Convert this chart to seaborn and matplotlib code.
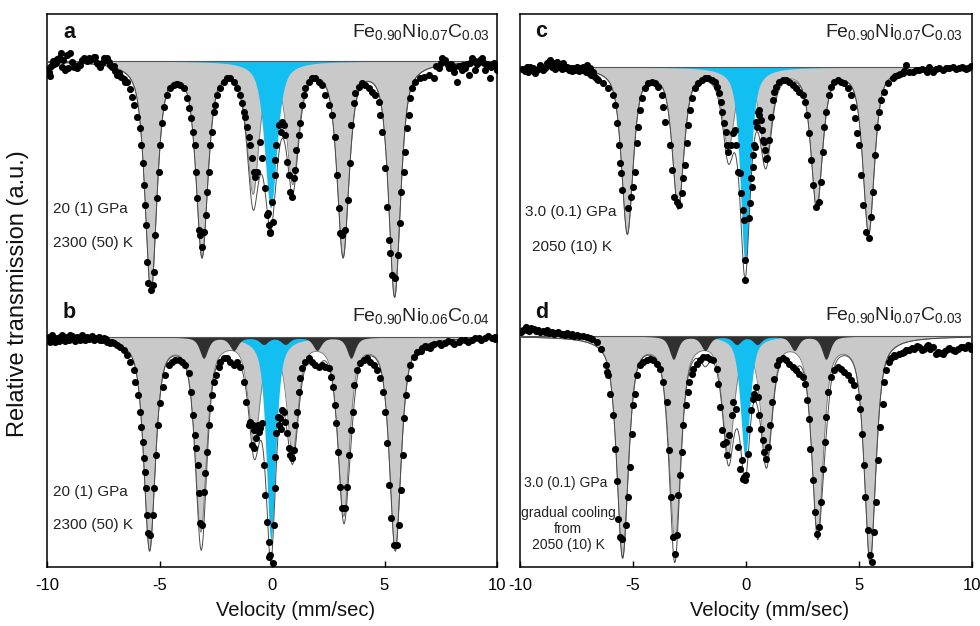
import numpy as np
import pandas as pd
import matplotlib
matplotlib.use("Agg")
import matplotlib.pyplot as plt
import seaborn as sns

sns.set_theme(style="white")
plt.rcParams["font.family"] = ["Liberation Sans", "DejaVu Sans"]
plt.rcParams["mathtext.fontset"] = "custom"
plt.rcParams["mathtext.rm"] = "Liberation Sans"
plt.rcParams["mathtext.default"] = "regular"
plt.rcParams["axes.unicode_minus"] = False

# ---------------------------------------------------------------------------
# Measured spectra: (velocity in mm/s, absorption below the baseline in a.u.)
# ---------------------------------------------------------------------------
spec_a = [
    (-9.98, 8), (-9.93, 11), (-9.88, 15), (-9.82, 5), (-9.75, 0), (-9.68, 3), (-9.62, 2), (-9.55, -2),
    (-9.5, -1), (-9.45, -3), (-9.4, -8), (-9.33, 6), (-9.27, -1), (-9.2, 9), (-9.13, -6), (-9.05, 7),
    (-8.98, -8), (-8.9, 1), (-8.82, 6), (-8.74, 5), (-8.67, 7), (-8.6, 4), (-8.53, 4), (-8.45, -1),
    (-8.37, -3), (-8.3, -2), (-8.22, 0), (-8.15, -3), (-8.09, -1), (-8.0, -2), (-7.93, -4), (-7.87, -4),
    (-7.8, 2), (-7.72, 3), (-7.64, 6), (-7.56, 2), (-7.48, -3), (-7.4, -1), (-7.33, -3), (-7.26, 1),
    (-7.2, 4), (-7.11, 6), (-7.03, 5), (-6.96, 10), (-6.89, 14), (-6.8, 12), (-6.7, 16), (-6.6, 18),
    (-6.52, 21), (-6.44, 21), (-6.3, 28), (-6.22, 36), (-6.12, 44), (-6.0, 56), (-5.88, 67), (-5.81, 84),
    (-5.75, 102), (-5.7, 124), (-5.64, 144), (-5.6, 164), (-5.56, 201), (-5.51, 222), (-5.38, 229),
    (-5.29, 224), (-5.26, 211), (-5.19, 174), (-5.11, 137), (-5.04, 111), (-4.96, 84), (-4.89, 62),
    (-4.79, 46), (-4.67, 34), (-4.52, 27), (-4.37, 24), (-4.22, 23), (-4.07, 24), (-3.93, 27),
    (-3.78, 37), (-3.7, 47), (-3.6, 57), (-3.53, 71), (-3.41, 84), (-3.38, 111), (-3.33, 137),
    (-3.26, 169), (-3.19, 174), (-3.11, 186), (-3.04, 171), (-2.93, 154), (-2.89, 131), (-2.81, 111),
    (-2.74, 84), (-2.67, 71), (-2.59, 51), (-2.52, 44), (-2.44, 34), (-2.3, 27), (-2.15, 21), (-2.0, 17),
    (-1.85, 17), (-1.7, 21), (-1.56, 27), (-1.44, 34), (-1.33, 42), (-1.26, 51), (-1.19, 56), (-1.11, 66),
    (-1.04, 76), (-0.96, 84), (-0.89, 97), (-0.81, 111), (-0.74, 116), (-0.67, 111), (-0.55, 81),
    (-0.44, 97), (-0.3, 127), (-0.22, 154), (-0.2, 152), (-0.15, 164), (-0.09, 172), (-0.07, 171),
    (0.0, 141), (0.04, 161), (0.12, 114), (0.15, 99), (0.18, 84), (0.3, 64), (0.41, 71), (0.44, 61),
    (0.52, 64), (0.59, 74), (0.67, 101), (0.74, 114), (0.81, 131), (0.89, 136), (0.96, 117), (1.04, 109),
    (1.07, 89), (1.19, 74), (1.26, 62), (1.33, 44), (1.41, 34), (1.48, 27), (1.63, 21), (1.78, 17),
    (1.93, 17), (2.07, 21), (2.22, 24), (2.37, 34), (2.52, 44), (2.67, 54), (2.79, 76), (2.89, 114),
    (2.96, 147), (3.04, 172), (3.11, 174), (3.26, 169), (3.38, 139), (3.45, 102), (3.53, 64), (3.63, 42),
    (3.7, 32), (3.85, 26), (4.0, 22), (4.15, 24), (4.3, 27), (4.44, 31), (4.59, 34), (4.74, 41),
    (4.81, 54), (4.89, 71), (5.04, 107), (5.11, 146), (5.19, 179), (5.26, 192), (5.33, 214), (5.48, 217),
    (5.6, 194), (5.67, 162), (5.75, 131), (5.85, 111), (5.93, 91), (6.0, 67), (6.07, 54), (6.15, 37),
    (6.22, 27), (6.37, 21), (6.59, 17), (6.74, 16), (6.96, 14), (7.19, 17), (7.41, 7), (7.56, -3),
    (7.7, -1), (7.85, 7), (8.07, 11), (8.22, 21), (8.44, 9), (8.59, 7), (8.74, 14), (8.89, -3),
    (9.04, 9), (9.19, 1), (9.33, -3), (9.48, 9), (9.63, 4), (9.7, 17), (9.85, 2), (10.0, 9),
    (7.3, 5), (7.5, 2), (7.65, 0), (7.8, 4), (7.95, 3), (8.1, 6), (8.3, 5), (8.5, 4), (8.65, 3),
    (8.8, 2), (9.0, 0), (9.1, 3), (9.25, -1), (9.4, 2), (9.55, 3), (9.75, 6), (9.9, 4),
]

spec_b = [
    (-9.85, 5), (-9.7, 3), (-9.56, 1), (-9.41, 0), (-9.26, 3), (-9.11, 0), (-8.96, -2), (-8.81, 1),
    (-8.67, 0), (-8.52, 3), (-8.37, 1), (-8.22, 0), (-8.07, 1), (-7.93, 3), (-7.78, 1), (-7.63, 3),
    (-7.48, 1), (-7.33, 5), (-7.19, 6), (-7.04, 6), (-6.89, 8), (-6.74, 10), (-6.59, 13), (-6.44, 18),
    (-6.3, 25), (-6.15, 33), (-6.07, 45), (-5.97, 58), (-5.88, 75), (-5.81, 90), (-5.75, 105),
    (-5.67, 121), (-5.63, 135), (-5.59, 151), (-5.56, 178), (-5.53, 196), (-5.41, 198), (-5.29, 178),
    (-5.23, 151), (-5.16, 118), (-5.07, 88), (-4.96, 66), (-4.84, 50), (-4.74, 38), (-4.59, 28),
    (-4.44, 25), (-4.3, 23), (-4.15, 23), (-4.0, 25), (-3.85, 28), (-3.7, 36), (-3.6, 55), (-3.51, 78),
    (-3.44, 98), (-3.38, 111), (-3.3, 128), (-3.26, 156), (-3.19, 186), (-3.11, 188), (-3.04, 155),
    (-2.96, 136), (-2.89, 115), (-2.81, 88), (-2.74, 71), (-2.67, 58), (-2.59, 45), (-2.47, 38),
    (-2.37, 30), (-2.3, 25), (-2.15, 21), (-2.0, 21), (-1.85, 25), (-1.7, 28), (-1.56, 25), (-1.41, 30),
    (-1.26, 45), (-1.14, 65), (-1.04, 88), (-0.96, 85), (-0.89, 108), (-0.84, 88), (-0.81, 111),
    (-0.79, 93), (-0.7, 101), (-0.64, 88), (-0.6, 95), (-0.52, 91), (-0.45, 86), (-0.37, 128),
    (-0.3, 158), (-0.22, 185), (-0.15, 205), (-0.13, 220), (-0.07, 218), (0.04, 226),
    (-9.92, 0), (-9.78, -2), (-9.63, 5), (-9.48, 4), (-9.34, -2), (-9.18, 4), (-9.04, 3), (-8.88, -1),
    (-8.74, 4), (-8.6, 1), (-8.45, -2), (-8.3, 3), (-8.15, 2), (-8.0, -1), (-7.86, 2), (-7.7, 0),
    (-7.56, 3), (-7.4, 2), (-7.26, 5), (-7.1, 5),
    (0.07, 188), (0.12, 151), (0.15, 120), (0.18, 96), (0.25, 80), (0.3, 88), (0.37, 81), (0.4, 92),
    (0.44, 73), (0.52, 75), (0.59, 85), (0.67, 96), (0.74, 111), (0.81, 118), (0.89, 121), (0.96, 113),
    (1.04, 88), (1.11, 75), (1.19, 55), (1.26, 41), (1.33, 31), (1.48, 25), (1.63, 21), (1.78, 25),
    (1.93, 28), (2.07, 30), (2.22, 28), (2.37, 30), (2.52, 31), (2.64, 40), (2.71, 50), (2.79, 68),
    (2.84, 86), (2.92, 115), (3.01, 150), (3.11, 171), (3.26, 171), (3.33, 150), (3.44, 118),
    (3.51, 93), (3.59, 75), (3.66, 48), (3.78, 33), (3.93, 26), (4.07, 23), (4.22, 21), (4.37, 25),
    (4.52, 28), (4.67, 33), (4.81, 41), (4.92, 55), (5.01, 75), (5.11, 106), (5.19, 148), (5.29, 181),
    (5.41, 208), (5.56, 208), (5.63, 188), (5.73, 153), (5.81, 118), (5.88, 81), (5.96, 58),
    (6.03, 41), (6.15, 28), (6.3, 20), (6.44, 15), (6.67, 11), (6.89, 10), (7.11, 8), (7.41, 6),
    (7.7, 6), (8.0, 5), (8.3, 5), (8.59, 3), (8.89, 3), (9.19, 1), (9.48, 1), (9.78, 1), (9.93, 0),
    (6.6, 14), (6.8, 9), (7.0, 11), (7.2, 7), (7.5, 8), (7.8, 4), (8.1, 7), (8.4, 3), (8.7, 5),
    (9.0, 1), (9.3, 3), (9.6, -1), (9.9, 2),
]

spec_c = [
    (-9.9, 2), (-9.8, 4), (-9.7, 0), (-9.65, 5), (-9.56, 0), (-9.5, 3), (-9.41, 1), (-9.35, 6),
    (-9.26, 3), (-9.2, 2), (-9.12, -2), (-9.05, 0), (-8.97, 3), (-8.9, 1), (-8.82, -4), (-8.75, -2),
    (-8.67, -7), (-8.6, 0), (-8.53, -4), (-8.45, 2), (-8.38, -5), (-8.3, 0), (-8.23, -2), (-8.15, 2),
    (-8.08, -4), (-8.0, 1), (-7.94, 0), (-7.85, 3), (-7.79, 1), (-7.7, 4), (-7.64, 1), (-7.55, 3),
    (-7.49, 0), (-7.4, 4), (-7.35, 1), (-7.25, 3), (-7.2, 0), (-7.1, 5), (-7.05, -2), (-6.95, 6),
    (-6.9, 1), (-6.85, 8), (-6.76, 5), (-6.7, 10), (-6.6, 12), (-6.53, 13), (-6.31, 16), (-6.09, 21),
    (-5.87, 28), (-5.8, 38), (-5.69, 56), (-5.63, 78), (-5.58, 96), (-5.55, 106), (-5.5, 123),
    (-5.21, 141), (-5.09, 130), (-4.99, 120), (-4.91, 105), (-4.84, 76), (-4.76, 60), (-4.69, 43),
    (-4.62, 31), (-4.47, 21), (-4.32, 16), (-4.17, 15), (-4.03, 16), (-3.88, 20), (-3.73, 28),
    (-3.66, 40), (-3.58, 55), (-3.36, 78), (-3.29, 103), (-3.17, 130), (-3.07, 135), (-2.95, 138),
    (-2.85, 126), (-2.77, 111), (-2.7, 98), (-2.63, 76), (-2.55, 58), (-2.48, 43), (-2.4, 31),
    (-2.26, 21), (-2.11, 16), (-1.96, 13), (-1.81, 11), (-1.67, 11), (-1.52, 13), (-1.37, 15),
    (-1.3, 20), (-1.18, 26), (-1.11, 35), (-1.05, 45), (-0.97, 56), (-0.9, 65), (-0.83, 78), (-0.78, 85),
    (-0.68, 78), (-0.56, 66), (-0.49, 63), (-0.44, 78), (-0.34, 105), (-0.27, 106), (-0.22, 126),
    (-0.15, 143), (-0.1, 153), (-0.06, 193), (-0.03, 213),
    (0.15, 151), (0.18, 136), (0.22, 111), (0.27, 120), (0.29, 88), (0.31, 100), (0.37, 78), (0.4, 80),
    (0.44, 55), (0.49, 60), (0.52, 45), (0.58, 48), (0.59, 43), (0.66, 53), (0.71, 63), (0.74, 73),
    (0.81, 75), (0.84, 83), (0.88, 92), (0.91, 91), (1.03, 73), (1.11, 50), (1.18, 33), (1.25, 25),
    (1.33, 20), (1.47, 15), (1.62, 13), (1.77, 13), (1.92, 15), (2.06, 18), (2.21, 21), (2.36, 25),
    (2.51, 28), (2.63, 35), (2.7, 48), (2.77, 66), (2.88, 93), (2.95, 118), (3.1, 140), (3.22, 135),
    (3.3, 115), (3.39, 85), (3.47, 60), (3.54, 45), (3.66, 28), (3.76, 20), (3.91, 15), (4.06, 13),
    (4.2, 15), (4.35, 16), (4.5, 21), (4.65, 28), (4.75, 40), (4.84, 51), (4.91, 66), (5.01, 78),
    (5.09, 108), (5.16, 138), (5.31, 165), (5.43, 171), (5.53, 150), (5.6, 125), (5.72, 88), (5.8, 60),
    (5.87, 45), (5.97, 33), (6.12, 25), (6.27, 16), (6.49, 11), (6.71, 8), (6.93, 6), (7.08, -2),
    (7.37, 5), (7.67, 3), (7.96, 3), (8.11, 0), (8.26, 5), (8.55, 1), (8.85, 1), (9.14, 0), (9.44, 1),
    (9.66, 1), (9.81, 1),
    (6.6, 9), (6.8, 7), (7.0, 4), (7.2, 5), (7.5, 3), (7.8, 2), (8.0, 5), (8.4, 2), (8.7, 3), (9.0, 1),
    (9.3, 2), (9.55, 0), (9.75, 2), (9.95, -1),
]

spec_d = [
    (-9.95, -4), (-9.85, -6), (-9.75, -9), (-9.7, -6), (-9.6, -5), (-9.5, -8), (-9.4, -7), (-9.3, -5),
    (-9.2, -6), (-9.1, -4), (-9.0, -5), (-8.9, -4), (-8.8, -6), (-8.7, -3), (-8.6, -4), (-8.5, -2),
    (-8.4, -3), (-8.3, -4), (-8.2, -2), (-8.1, -2), (-8.0, -1), (-7.9, -3), (-7.8, -1), (-7.7, -2),
    (-7.6, 0), (-7.5, -1), (-7.4, 0), (-7.2, 0), (-7.05, 1), (-6.9, 2), (-6.83, 3), (-6.6, 6),
    (-6.4, 13), (-6.19, 29), (-6.14, 36), (-6.09, 39), (-6.02, 58), (-5.9, 79), (-5.8, 113),
    (-5.72, 145), (-5.65, 183), (-5.58, 201), (-5.5, 203), (-5.31, 189), (-5.21, 161), (-5.13, 131),
    (-5.06, 98), (-4.99, 69), (-4.91, 58), (-4.84, 39), (-4.69, 29), (-4.54, 26), (-4.4, 24),
    (-4.25, 23), (-4.1, 24), (-3.95, 28), (-3.81, 33), (-3.66, 46), (-3.51, 66), (-3.41, 114),
    (-3.32, 161), (-3.22, 201), (-3.14, 218), (-3.07, 199), (-2.99, 159), (-2.92, 139), (-2.82, 116),
    (-2.77, 89), (-2.67, 69), (-2.58, 56), (-2.51, 46), (-2.4, 38), (-2.33, 33), (-2.18, 28),
    (-2.04, 24), (-1.89, 21), (-1.74, 21), (-1.59, 23), (-1.45, 24), (-1.3, 33), (-1.22, 48),
    (-1.15, 71), (-1.08, 94), (-1.0, 108), (-0.88, 106), (-0.86, 119), (-0.74, 99), (-0.63, 79),
    (-0.56, 66), (-0.44, 73), (-0.34, 111), (-0.27, 133), (-0.18, 124), (-0.15, 143), (-0.09, 141),
    (-0.04, 144),
    (0.0, 139), (0.07, 118), (0.15, 93), (0.22, 74), (0.29, 63), (0.37, 58), (0.44, 51), (0.52, 61),
    (0.59, 79), (0.66, 93), (0.74, 104), (0.81, 116), (0.88, 123), (0.96, 111), (1.06, 89), (1.15, 66),
    (1.25, 43), (1.36, 29), (1.47, 24), (1.62, 22), (1.77, 24), (1.92, 28), (2.06, 31), (2.21, 34),
    (2.36, 38), (2.51, 41), (2.63, 48), (2.7, 64), (2.77, 83), (2.85, 113), (2.95, 144), (3.05, 176),
    (3.14, 198), (3.24, 191), (3.32, 166), (3.39, 133), (3.48, 106), (3.54, 81), (3.64, 56), (3.76, 41),
    (3.91, 34), (4.06, 31), (4.2, 33), (4.35, 36), (4.5, 39), (4.65, 44), (4.79, 49), (4.94, 61),
    (5.04, 73), (5.13, 98), (5.21, 129), (5.28, 161), (5.38, 194), (5.49, 219), (5.58, 226), (5.68, 196),
    (5.75, 166), (5.86, 124), (5.93, 91), (6.05, 68), (6.12, 46), (6.19, 34), (6.34, 26), (6.56, 19),
    (6.78, 18), (7.01, 16), (7.23, 14), (7.45, 13), (7.67, 11), (7.89, 13), (8.04, 9), (8.26, 11),
    (8.48, 16), (8.7, 18), (8.92, 13), (9.14, 14), (9.37, 13), (9.59, 11), (9.81, 9), (9.96, 13),
    (6.4, 22), (6.6, 20), (6.9, 17), (7.1, 14), (7.35, 12), (7.55, 10), (7.8, 14), (8.0, 10),
    (8.15, 13), (8.4, 18), (8.6, 17), (8.8, 15), (9.0, 12), (9.25, 15), (9.5, 11), (9.7, 12), (9.9, 10),
]

# ---------------------------------------------------------------------------
# Fitted subspectra: line positions (mm/s), line depths (a.u.), half widths (mm/s)
# ---------------------------------------------------------------------------
a_sextet_pos = [-5.38, -3.11, -0.84, 0.92, 3.16, 5.45]
a_sextet_depth = [229, 191, 127, 117, 191, 233]
a_singlet_pos = [-0.06]
a_singlet_depth = [147]

b_sextet_pos = [-5.44, -3.16, -0.79, 0.92, 3.19, 5.48]
b_sextet_depth = [211, 191, 101, 111, 175, 211]
b_singlet_pos = [-0.05]
b_singlet_depth = [203]
b_minor_pos = [-3.04, -1.70, -0.37, 0.59, 2.00, 3.51]
b_minor_depth = [21, 13, 7, 7, 13, 21]

c_sextet_pos = [-5.25, -3.00, -0.78, 0.88, 3.13, 5.43]
c_sextet_depth = [165, 138, 78, 88, 138, 165]
c_singlet_pos = [-0.04]
c_singlet_depth = [196]

d_sextet_pos = [-5.46, -3.14, -0.78, 0.91, 3.17, 5.49]
d_sextet_depth = [219, 200, 113, 119, 193, 224]
d_singlet_pos = [-0.04]
d_singlet_depth = [121]
d_minor_pos = [-3.21, -1.81, -0.41, 0.50, 2.14, 3.54]
d_minor_depth = [23, 14, 8, 8, 14, 23]

sextet_hw = [0.31, 0.30, 0.30, 0.30]
singlet_hw = [0.33, 0.25, 0.26, 0.25]
minor_hw = 0.22
lorentz_fraction = 0.65  # pseudo-Voigt mixing of the line shape

# Baselines of the stacked spectra (a.u.)
baselines = [506, 230, 500, 231]

labels = ["a", "b", "c", "d"]
formulas = [r"Fe$_{0.90}$Ni$_{0.07}$C$_{0.03}$", r"Fe$_{0.90}$Ni$_{0.06}$C$_{0.04}$",
            r"Fe$_{0.90}$Ni$_{0.07}$C$_{0.03}$", r"Fe$_{0.90}$Ni$_{0.07}$C$_{0.03}$"]
pressure_text = ["20 (1) GPa", "20 (1) GPa", "3.0 (0.1) GPa", "3.0 (0.1) GPa"]
temperature_text = ["2300 (50) K", "2300 (50) K", "2050 (10) K", "gradual cooling\nfrom\n2050 (10) K"]
tick_values = [-10, -5, 0, 5, 10]
tick_labels = ["-10", "-5", "0", "5", "10"]

GREY = "#c9c9c9"
CYAN = "#12bff0"
DARK = "#303030"


def line_sum(v, pos, depth, hw, eta=lorentz_fraction):
    x = (np.asarray(v)[:, None] - np.asarray(pos)) / hw
    shape = eta / (1.0 + x ** 2) + (1.0 - eta) * np.exp(-np.log(2.0) * x ** 2)
    return (np.asarray(depth) * shape).sum(axis=1)


W, H = 980, 626
fig = plt.figure(figsize=(W / 100, H / 100), dpi=100)


def fx(px):
    return px / W


def fy(py):
    return 1 - py / H


ax_left = fig.add_axes([fx(47), fy(567), (497 - 47) / W, (567 - 14) / H])
ax_right = fig.add_axes([fx(520), fy(567), (972 - 520) / W, (567 - 14) / H])
axes = [ax_left, ax_left, ax_right, ax_right]

spectra = [spec_a, spec_b, spec_c, spec_d]
sextets = [(a_sextet_pos, a_sextet_depth), (b_sextet_pos, b_sextet_depth),
           (c_sextet_pos, c_sextet_depth), (d_sextet_pos, d_sextet_depth)]
singlets = [(a_singlet_pos, a_singlet_depth), (b_singlet_pos, b_singlet_depth),
            (c_singlet_pos, c_singlet_depth), (d_singlet_pos, d_singlet_depth)]
minors = [None, (b_minor_pos, b_minor_depth), None, (d_minor_pos, d_minor_depth)]

vgrid = np.linspace(-10, 10, 2001)

for i in range(4):
    ax = axes[i]
    base = baselines[i]
    grey = line_sum(vgrid, *sextets[i], sextet_hw[i])
    cyan = line_sum(vgrid, *singlets[i], singlet_hw[i])
    dark = line_sum(vgrid, *minors[i], minor_hw) if minors[i] else np.zeros_like(vgrid)
    total = grey + cyan + dark

    ax.fill_between(vgrid, base, base - grey, color=GREY, lw=0, zorder=1)
    ax.plot(vgrid, base - grey, color="#777777", lw=0.6, zorder=1.5)
    ax.fill_between(vgrid, base, base - cyan, color=CYAN, lw=0, zorder=2)
    if minors[i]:
        ax.fill_between(vgrid, base, base - dark, color=DARK, lw=0, zorder=3)
    ax.plot(vgrid, base - total, color="#4a4a4a", lw=0.7, zorder=4)
    ax.axhline(base, color="#555555", lw=0.8, zorder=4)

    df = pd.DataFrame(spectra[i], columns=["velocity", "absorption"])
    df["transmission"] = base - df["absorption"]
    sns.scatterplot(data=df, x="velocity", y="transmission", ax=ax, color="black",
                    s=26, linewidth=0, zorder=5, legend=False)

for ax in (ax_left, ax_right):
    ax.set_xlim(-10, 10)
    ax.set_ylim(0, 553)
    ax.set_yticks([])
    ax.set_xticks(tick_values)
    ax.set_xticklabels(tick_labels)
    ax.tick_params(axis="x", direction="in", length=4, width=1, labelsize=12, pad=8,
                   colors="black", bottom=True)
    for s in ax.spines.values():
        s.set_color("black")
        s.set_linewidth(1.1)
    ax.set_xlabel("Velocity (mm/sec)", fontsize=14.5, color="#111111")
    ax.xaxis.set_label_coords(0.553, -0.078)
    ax.xaxis.label.set_va("center")
    ax.set_ylabel("")

ax_left.set_ylabel("Relative transmission (a.u.)", fontsize=17, color="#111111")
ax_left.yaxis.set_label_coords((18 - 47) / 450, (567 - 294) / 553)
ax_left.yaxis.label.set_va("center")

# Panel letters, compositions and conditions (figure pixel positions)
letter_pos = [(63, 38), (63, 318), (535, 37), (535, 318)]
formula_pos = [(490, 37), (490, 321), (963, 37), (963, 320)]
for i in range(4):
    lx, ly = letter_pos[i]
    fig.text(fx(lx), fy(ly), labels[i], fontsize=15.5, fontweight="bold",
             ha="left", va="baseline", color="#111111")
    rx, ry = formula_pos[i]
    fig.text(fx(rx), fy(ry), formulas[i], fontsize=14, ha="right", va="baseline",
             color="#222222")

fig.text(fx(53), fy(209), pressure_text[0], fontsize=11, ha="left", va="center", color="#222222")
fig.text(fx(53), fy(243), temperature_text[0], fontsize=11, ha="left", va="center", color="#222222")
fig.text(fx(53), fy(492), pressure_text[1], fontsize=11, ha="left", va="center", color="#222222")
fig.text(fx(53), fy(525), temperature_text[1], fontsize=11, ha="left", va="center", color="#222222")
fig.text(fx(525), fy(212), pressure_text[2], fontsize=11, ha="left", va="center", color="#222222")
fig.text(fx(532), fy(247), temperature_text[2], fontsize=11, ha="left", va="center", color="#222222")
fig.text(fx(524), fy(483), pressure_text[3], fontsize=10, ha="left", va="center", color="#222222")
fig.text(fx(568), fy(529), temperature_text[3], fontsize=10, ha="center", va="center",
         multialignment="center", linespacing=1.15, color="#222222")

fig.savefig("out.png", dpi=100)
